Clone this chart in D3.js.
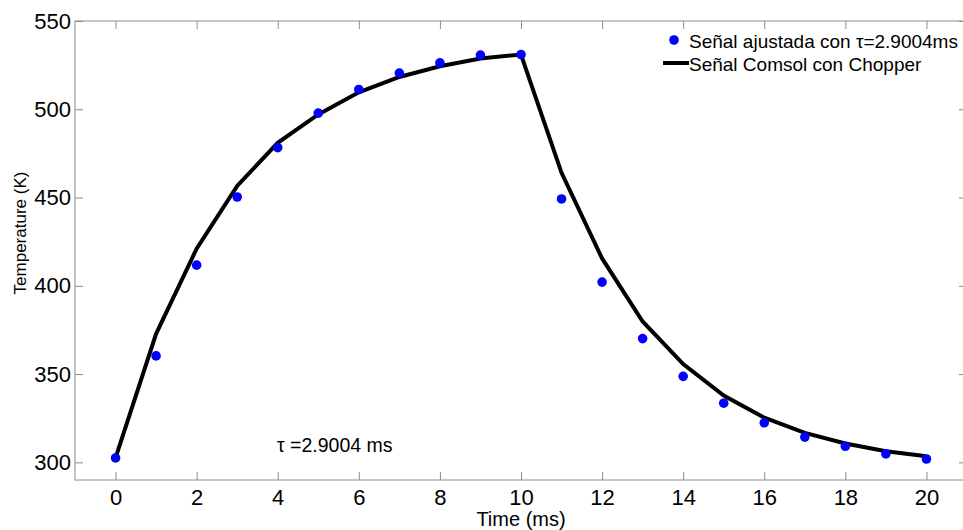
<!DOCTYPE html>
<html>
<head>
<meta charset="utf-8">
<script src="https://cdn.jsdelivr.net/npm/d3@7"></script>
<style>
  body { margin: 0; background: #fff; }
  svg text { font-family: Arial, "Liberation Sans", sans-serif; fill: #000; }
</style>
</head>
<body>
<div id="chart"></div>
<script>
// time axis (ms)
const timeMs = [0, 1, 2, 3, 4, 5, 6, 7, 8, 9, 10, 11, 12, 13, 14, 15, 16, 17, 18, 19, 20];
// fitted signal, tau = 2.9004 ms (blue dots)
const fittedK = [302.5, 360.3, 411.7, 450.3, 478.3, 497.8, 511.2, 520.5, 526.3, 530.7, 531.0,
                 449.2, 402.1, 370.1, 348.7, 333.5, 322.4, 314.3, 309.1, 304.8, 301.9];
// Comsol signal with chopper (black line)
const comsolK = [302.5, 372.8, 421.0, 456.6, 481.0, 497.1, 509.6, 518.3, 524.4, 528.8, 531.0,
                 464.0, 415.5, 379.8, 355.7, 337.8, 325.3, 316.7, 310.7, 306.3, 303.4];
const xTicks = [0, 2, 4, 6, 8, 10, 12, 14, 16, 18, 20];
const yTicks = [300, 350, 400, 450, 500, 550];
const legendLabels = ['Señal ajustada con τ=2.9004ms', 'Señal Comsol con Chopper'];
const tauNote = 'τ =2.9004 ms';

const W = 963, H = 530;
const m = { l: 75, r: 967, t: 21, b: 480 };
const axisGray = '#8c8c8c';

const x = d3.scaleLinear().domain([-1, 21]).range([m.l, m.r]);
const y = d3.scaleLinear().domain([290, 550]).range([m.b, m.t]);

const svg = d3.select('#chart').append('svg')
  .attr('width', W).attr('height', H);

// box
svg.append('rect')
  .attr('x', m.l).attr('y', m.t)
  .attr('width', m.r - m.l).attr('height', m.b - m.t)
  .attr('fill', 'none').attr('stroke', axisGray).attr('stroke-width', 1);

const tickLen = 8;

// bottom axis
const xAxis = svg.append('g').attr('transform', `translate(0,${m.b})`)
  .call(d3.axisBottom(x).tickValues(xTicks).tickSizeInner(-tickLen).tickSizeOuter(0).tickPadding(9));
// top ticks
svg.append('g').attr('transform', `translate(0,${m.t})`)
  .call(d3.axisTop(x).tickValues(xTicks).tickSizeInner(-tickLen).tickSizeOuter(0).tickFormat(''));
// left axis
const yAxis = svg.append('g').attr('transform', `translate(${m.l},0)`)
  .call(d3.axisLeft(y).tickValues(yTicks).tickSizeInner(-tickLen).tickSizeOuter(0).tickPadding(4));
// right ticks
svg.append('g').attr('transform', `translate(${m.r},0)`)
  .call(d3.axisRight(y).tickValues(yTicks).tickSizeInner(-tickLen).tickSizeOuter(0).tickFormat(''));

svg.selectAll('.domain').remove();
svg.selectAll('.tick line').attr('stroke', axisGray);
xAxis.selectAll('text').attr('font-size', 22).attr('fill', '#000');
yAxis.selectAll('text').attr('font-size', 22).attr('fill', '#000');

// axis labels
svg.append('text')
  .attr('x', x(10)).attr('y', 526)
  .attr('text-anchor', 'middle')
  .attr('font-size', 20)
  .text('Time (ms)');

svg.append('text')
  .attr('transform', 'translate(26,233) rotate(-90)')
  .attr('text-anchor', 'middle')
  .attr('font-size', 17)
  .text('Temperature (K)');

// comsol line
const line = d3.line()
  .x((d, i) => x(timeMs[i]))
  .y(d => y(d));

svg.append('path')
  .datum(comsolK)
  .attr('d', line)
  .attr('fill', 'none')
  .attr('stroke', '#000')
  .attr('stroke-width', 4)
  .attr('stroke-linejoin', 'miter');

// fitted dots
svg.selectAll('circle.fit')
  .data(fittedK)
  .enter()
  .append('circle')
  .attr('class', 'fit')
  .attr('cx', (d, i) => x(timeMs[i]))
  .attr('cy', d => y(d))
  .attr('r', 4.8)
  .attr('fill', '#0000ff');

// tau annotation
svg.append('text')
  .attr('x', 277).attr('y', 452)
  .attr('font-size', 19.5)
  .text(tauNote);

// legend
const leg = svg.append('g');
leg.append('circle').attr('cx', 674).attr('cy', 40).attr('r', 4.8).attr('fill', '#0000ff');
leg.append('text').attr('x', 689).attr('y', 48).attr('font-size', 19).text(legendLabels[0]);
leg.append('line').attr('x1', 663).attr('x2', 689).attr('y1', 63).attr('y2', 63)
  .attr('stroke', '#000').attr('stroke-width', 4);
leg.append('text').attr('x', 689).attr('y', 71).attr('font-size', 19).text(legendLabels[1]);
</script>
</body>
</html>
